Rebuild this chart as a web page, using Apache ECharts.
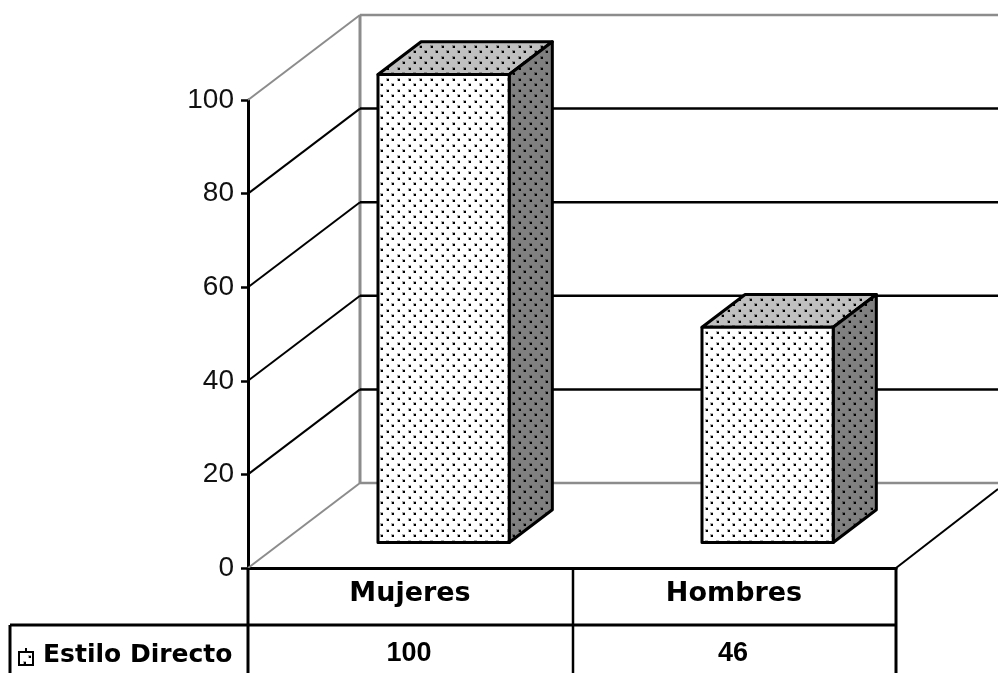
<!DOCTYPE html>
<html>
<head>
<meta charset="utf-8">
<style>html,body{margin:0;padding:0;background:#fff;overflow:hidden}#c{width:998px;height:673px}</style>
<script src="https://cdn.jsdelivr.net/npm/echarts@6/dist/echarts.min.js"></script>
</head>
<body>
<div id="c"></div>
<script>
var categories = ['Mujeres', 'Hombres'];
var seriesName = 'Estilo Directo';
var values = [100, 46];
var yTicks = [0, 20, 40, 60, 80, 100];

var FONT = '"Liberation Sans", Arial, sans-serif';
var FONT_WIDE = '"DejaVu Sans", sans-serif';
var DEPTH = [112, -85];
var BAR_NEAR = 0.30, BAR_FAR = 0.685, BAR_W = 0.405;
var ROW1 = 57, ROW2 = 120, TABLE_LEFT = 10;

function tile(bg) {
  var c = document.createElement('canvas');
  c.width = 11; c.height = 11;
  var x = c.getContext('2d');
  x.fillStyle = bg; x.fillRect(0, 0, 11, 11);
  x.fillStyle = 'rgba(0,0,0,0.3)';
  x.fillRect(1, 1, 3, 3);
  x.fillRect(6, 6, 3, 3);
  x.fillStyle = '#000';
  x.fillRect(2, 2, 2, 2);
  x.fillRect(7, 7, 2, 2);
  return { image: c, repeat: 'repeat' };
}
var fillFront = tile('#ffffff'), fillTop = tile('#c0c0c0'), fillSide = tile('#808080');

function line(x1, y1, x2, y2, color, w) {
  return { type: 'line', shape: { x1: x1, y1: y1, x2: x2, y2: y2 }, style: { stroke: color, lineWidth: w } };
}
function poly(pts, fill) {
  return { type: 'polygon', shape: { points: pts }, style: { fill: fill, stroke: '#000', lineWidth: 3, lineJoin: 'round' } };
}

function renderWall(params, api) {
  var v = api.value(0);
  var cs = params.coordSys;
  var p = api.coord([0, v]);
  var y = p[1], x0 = cs.x, x1 = cs.x + DEPTH[0], y1 = y + DEPTH[1];
  var edge = v === yTicks[0] || v === yTicks[yTicks.length - 1];
  var col = edge ? '#8c8c8c' : '#000';
  var ch = [
    line(x0, y, x1, y1, col, 2),
    line(x1, y1, 998, y1, col, 2.5)
  ];
  if (v === yTicks[0]) {
    var top = api.coord([0, yTicks[yTicks.length - 1]])[1] + DEPTH[1];
    ch.push(line(x1, y1, x1, top, '#8c8c8c', 3));
  }
  return { type: 'group', children: ch };
}

function renderBar(params, api) {
  var i = api.value(0), v = api.value(1);
  var base = api.coord([i, 0]), top = api.coord([i, v]);
  var w = api.size([1, 0])[0] * BAR_W;
  var nx = DEPTH[0] * BAR_NEAR, ny = DEPTH[1] * BAR_NEAR;
  var fx = DEPTH[0] * BAR_FAR - nx, fy = DEPTH[1] * BAR_FAR - ny;
  var l = base[0] - w / 2 + nx, r = l + w, b = base[1] + ny, t = top[1] + ny;
  return { type: 'group', children: [
    poly([[l, t], [r, t], [r + fx, t + fy], [l + fx, t + fy]], fillTop),
    poly([[r, t], [r + fx, t + fy], [r + fx, b + fy], [r, b]], fillSide),
    poly([[l, t], [r, t], [r, b], [l, b]], fillFront)
  ] };
}

function renderRow(params, api) {
  var i = api.value(0), v = api.value(1);
  var p = api.coord([i, 0]);
  return {
    type: 'text',
    style: { x: p[0] - 1, y: p[1] + ROW1 + 29, text: String(v), fill: '#000', font: 'bold 27px ' + FONT, align: 'center', verticalAlign: 'middle' }
  };
}

function renderTable(params, api) {
  var cs = params.coordSys;
  var x0 = cs.x, x2 = cs.x + cs.width, xm = (x0 + x2) / 2 + 1, y0 = cs.y + cs.height;
  var y1 = y0 + ROW1, y2 = y0 + ROW2;
  return { type: 'group', children: [
    line(x0, y0, x0, y2, '#000', 3),
    line(xm, y0, xm, y2, '#000', 2.5),
    line(x2, y0, x2, y2, '#000', 3),
    line(TABLE_LEFT, y1, x2, y1, '#000', 3),
    line(TABLE_LEFT, y1, TABLE_LEFT, y2, '#000', 3),
    line(x2, y0, x2 + 102, y0 - 79, '#000', 2),
    { type: 'rect', shape: { x: 19, y: y1 + 27, width: 14, height: 13 }, style: { fill: fillFront, stroke: '#000', lineWidth: 2 } },
    line(26, y1 + 23, 26, y1 + 27, '#000', 2),
    { type: 'text', style: { x: 43, y: y1 + 30, text: seriesName, fill: '#000', font: 'bold 25px ' + FONT_WIDE, align: 'left', verticalAlign: 'middle' } }
  ] };
}

var chart = echarts.init(document.getElementById('c'), null, { renderer: 'canvas' });
chart.setOption({
  animation: false,
  backgroundColor: '#fff',
  grid: { left: 248, right: 102, top: 100, bottom: 105, containLabel: false },
  xAxis: {
    type: 'category', data: categories,
    axisLine: { show: true, lineStyle: { color: '#000', width: 3 } },
    axisTick: { show: false },
    axisLabel: { color: '#000', fontFamily: FONT_WIDE, fontWeight: 'bold', fontSize: 27, margin: 12 }
  },
  yAxis: {
    type: 'value', min: 0, max: 100, interval: 20,
    splitLine: { show: false },
    axisLine: { show: true, lineStyle: { color: '#000', width: 3 } },
    axisTick: { show: true, length: 7, lineStyle: { color: '#000', width: 2.5 } },
    axisLabel: { color: '#111', fontFamily: FONT, fontSize: 28, margin: 14 }
  },
  series: [
    { type: 'custom', name: 'wall', coordinateSystem: 'cartesian2d', renderItem: renderWall, data: yTicks.map(function (t) { return [t]; }), encode: { y: 0 }, z: 1, silent: true },
    { type: 'custom', name: seriesName, coordinateSystem: 'cartesian2d', renderItem: renderBar, data: values.map(function (v, i) { return [i, v]; }), encode: { x: 0, y: 1 }, z: 2, silent: true },
    { type: 'custom', name: 'rowValues', coordinateSystem: 'cartesian2d', renderItem: renderRow, data: values.map(function (v, i) { return [i, v]; }), encode: { x: 0, y: 1 }, z: 3, silent: true },
    { type: 'custom', name: 'table', coordinateSystem: 'cartesian2d', renderItem: renderTable, data: [[0, 0]], encode: { x: 0, y: 1 }, z: 3, silent: true }
  ]
});
</script>
</body>
</html>
